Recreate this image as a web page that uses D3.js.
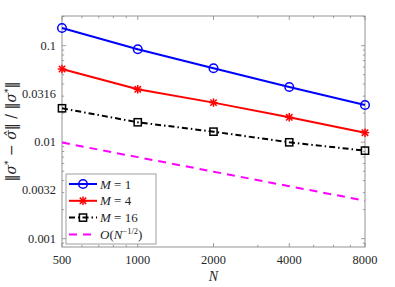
<!DOCTYPE html>
<html>
<head>
<meta charset="utf-8">
<script src="https://cdn.jsdelivr.net/npm/d3@7"></script>
<style>
  body { margin: 0; background: #fff; }
  text { font-family: "Liberation Serif", "DejaVu Serif", serif; fill: #262626; }
</style>
</head>
<body>
<div id="chart"></div>
<script>
const Ns = [500, 1000, 2000, 4000, 8000];
const errM1 = [0.1526, 0.0918, 0.0583, 0.0373, 0.0243];
const errM4 = [0.0573, 0.0353, 0.0257, 0.0181, 0.01254];
const errM16 = [0.02245, 0.01608, 0.01285, 0.00997, 0.00817];
const rateRef = [0.0099, 0.0070, 0.00495, 0.0035, 0.00248];
const yTicks = [0.001, 0.0032, 0.01, 0.0316, 0.1];
const yTickLabels = ["0.001", "0.0032", "0.01", "0.0316", "0.1"];
const xTicks = [500, 1000, 2000, 4000, 8000];

const width = 395, height = 287;
const margin = { left: 62, right: 30, top: 16, bottom: 40 };

const svg = d3.select("#chart").append("svg")
  .attr("width", width)
  .attr("height", height);

const x = d3.scaleLog().domain([500, 8000]).range([margin.left, width - margin.right]);
const y = d3.scaleLog().domain([0.00082, 0.203]).range([height - margin.bottom, margin.top]);

const x0 = margin.left, x1 = width - margin.right;
const y0 = height - margin.bottom, y1 = margin.top;
const axisColor = "#888";

// minor ticks
const xMinor = [];
for (const dec of [100, 1000]) for (let k = 1; k <= 9; k++) {
  const v = k * dec;
  if (v > 500 && v < 8000 && !xTicks.includes(v)) xMinor.push(v);
}
const yMinor = [];
for (const dec of [0.0001, 0.001, 0.01, 0.1]) for (let k = 1; k <= 9; k++) {
  const v = k * dec;
  if (v > 0.00082 && v < 0.203) yMinor.push(v);
}

const ticks = svg.append("g").attr("stroke", axisColor).attr("stroke-width", 0.8);
xTicks.concat(xMinor).forEach(v => {
  const len = xTicks.includes(v) ? 4 : 2.2;
  ticks.append("line").attr("x1", x(v)).attr("x2", x(v)).attr("y1", y0).attr("y2", y0 - len);
  ticks.append("line").attr("x1", x(v)).attr("x2", x(v)).attr("y1", y1).attr("y2", y1 + len);
});
yMinor.forEach(v => {
  const len = [0.001, 0.01, 0.1].includes(+v.toPrecision(3)) ? 4 : 2.2;
  ticks.append("line").attr("y1", y(v)).attr("y2", y(v)).attr("x1", x0).attr("x2", x0 + len);
  ticks.append("line").attr("y1", y(v)).attr("y2", y(v)).attr("x1", x1).attr("x2", x1 - len);
});

svg.append("rect")
  .attr("x", x0).attr("y", y1)
  .attr("width", x1 - x0).attr("height", y0 - y1)
  .attr("fill", "none").attr("stroke", axisColor).attr("stroke-width", 0.9);

// tick labels
svg.append("g").selectAll("text").data(xTicks).join("text")
  .attr("x", d => x(d)).attr("y", y0 + 17)
  .attr("text-anchor", "middle").attr("font-size", 12.4)
  .text(d => d);
svg.append("g").selectAll("text").data(yTicks).join("text")
  .attr("x", x0 - 6).attr("y", d => y(d) + 4.3)
  .attr("text-anchor", "end").attr("font-size", 12.4)
  .text((d, i) => yTickLabels[i]);

// axis labels
svg.append("text")
  .attr("x", (x0 + x1) / 2).attr("y", y0 + 34)
  .attr("text-anchor", "middle").attr("font-size", 14).attr("font-style", "italic")
  .text("N");

const yl = svg.append("text")
  .attr("transform", `translate(16,${(y0 + y1) / 2}) rotate(-90)`)
  .attr("text-anchor", "middle").attr("font-size", 14)
  .style("font-family", "'DejaVu Serif', serif");
yl.append("tspan").text("\u2016");
yl.append("tspan").attr("font-style", "italic").text("\u03c3");
yl.append("tspan").attr("dy", -5).attr("font-size", 9).text("*");
yl.append("tspan").attr("dy", 5).text(" \u2212 ");
yl.append("tspan").attr("font-style", "italic").text("\u03c3\u0302");
yl.append("tspan").text("\u2016 / \u2016");
yl.append("tspan").attr("font-style", "italic").text("\u03c3");
yl.append("tspan").attr("dy", -5).attr("font-size", 9).text("*");
yl.append("tspan").attr("dy", 5).text("\u2016");

// series
const series = [
  { name: "M1", vals: errM1, color: "#0000ff", dash: null, marker: "circle" },
  { name: "M4", vals: errM4, color: "#ff0000", dash: null, marker: "star" },
  { name: "M16", vals: errM16, color: "#000000", dash: "6,3,1.5,3", marker: "square" },
  { name: "ref", vals: rateRef, color: "#ff00ff", dash: "8,6", marker: null }
];

const line = d3.line().x(d => x(d[0])).y(d => y(d[1]));

function drawMarker(g, type, cx, cy, color) {
  if (type === "circle") {
    g.append("circle").attr("cx", cx).attr("cy", cy).attr("r", 4.3)
      .attr("fill", "none").attr("stroke", color).attr("stroke-width", 1.5);
  } else if (type === "square") {
    g.append("rect").attr("x", cx - 3.6).attr("y", cy - 3.6).attr("width", 7.2).attr("height", 7.2)
      .attr("fill", "none").attr("stroke", color).attr("stroke-width", 1.5);
  } else if (type === "star") {
    const r = 4.2, rd = 3.2;
    const segs = [[-r, 0, r, 0], [0, -r, 0, r], [-rd, -rd, rd, rd], [-rd, rd, rd, -rd]];
    segs.forEach(s => g.append("line")
      .attr("x1", cx + s[0]).attr("y1", cy + s[1]).attr("x2", cx + s[2]).attr("y2", cy + s[3])
      .attr("stroke", color).attr("stroke-width", 1.5));
  }
}

const plot = svg.append("g");
series.forEach(s => {
  const pts = Ns.map((n, i) => [n, s.vals[i]]);
  plot.append("path").datum(pts)
    .attr("d", line)
    .attr("fill", "none")
    .attr("stroke", s.color)
    .attr("stroke-width", 2)
    .attr("stroke-dasharray", s.dash);
  if (s.marker) pts.forEach(p => drawMarker(plot, s.marker, x(p[0]), y(p[1]), s.color));
});

// legend
const lg = svg.append("g");
lg.append("rect").attr("x", 66).attr("y", 174).attr("width", 90).attr("height", 70)
  .attr("fill", "#fff").attr("stroke", axisColor).attr("stroke-width", 0.8);
const legendLabels = [
  [["M", true], [" = 1", false]],
  [["M", true], [" = 4", false]],
  [["M", true], [" = 16", false]],
  null
];
series.forEach((s, i) => {
  const ly = 184 + i * 16.8;
  lg.append("line").attr("x1", 69).attr("x2", 97).attr("y1", ly).attr("y2", ly)
    .attr("stroke", s.color).attr("stroke-width", 2).attr("stroke-dasharray", s.dash);
  if (s.marker) drawMarker(lg, s.marker, 83, ly, s.color);
  const t = lg.append("text").attr("x", 100).attr("y", ly + 4.5).attr("font-size", 13)
    .attr("xml:space", "preserve");
  if (legendLabels[i]) {
    legendLabels[i].forEach(p => t.append("tspan").attr("font-style", p[1] ? "italic" : null).text(p[0]));
  } else {
    t.append("tspan").attr("font-style", "italic").text("O");
    t.append("tspan").text("(");
    t.append("tspan").attr("font-style", "italic").text("N");
    t.append("tspan").attr("dy", -5).attr("font-size", 8.5).text("\u22121/2");
    t.append("tspan").attr("dy", 5).text(")");
  }
});
</script>
</body>
</html>
